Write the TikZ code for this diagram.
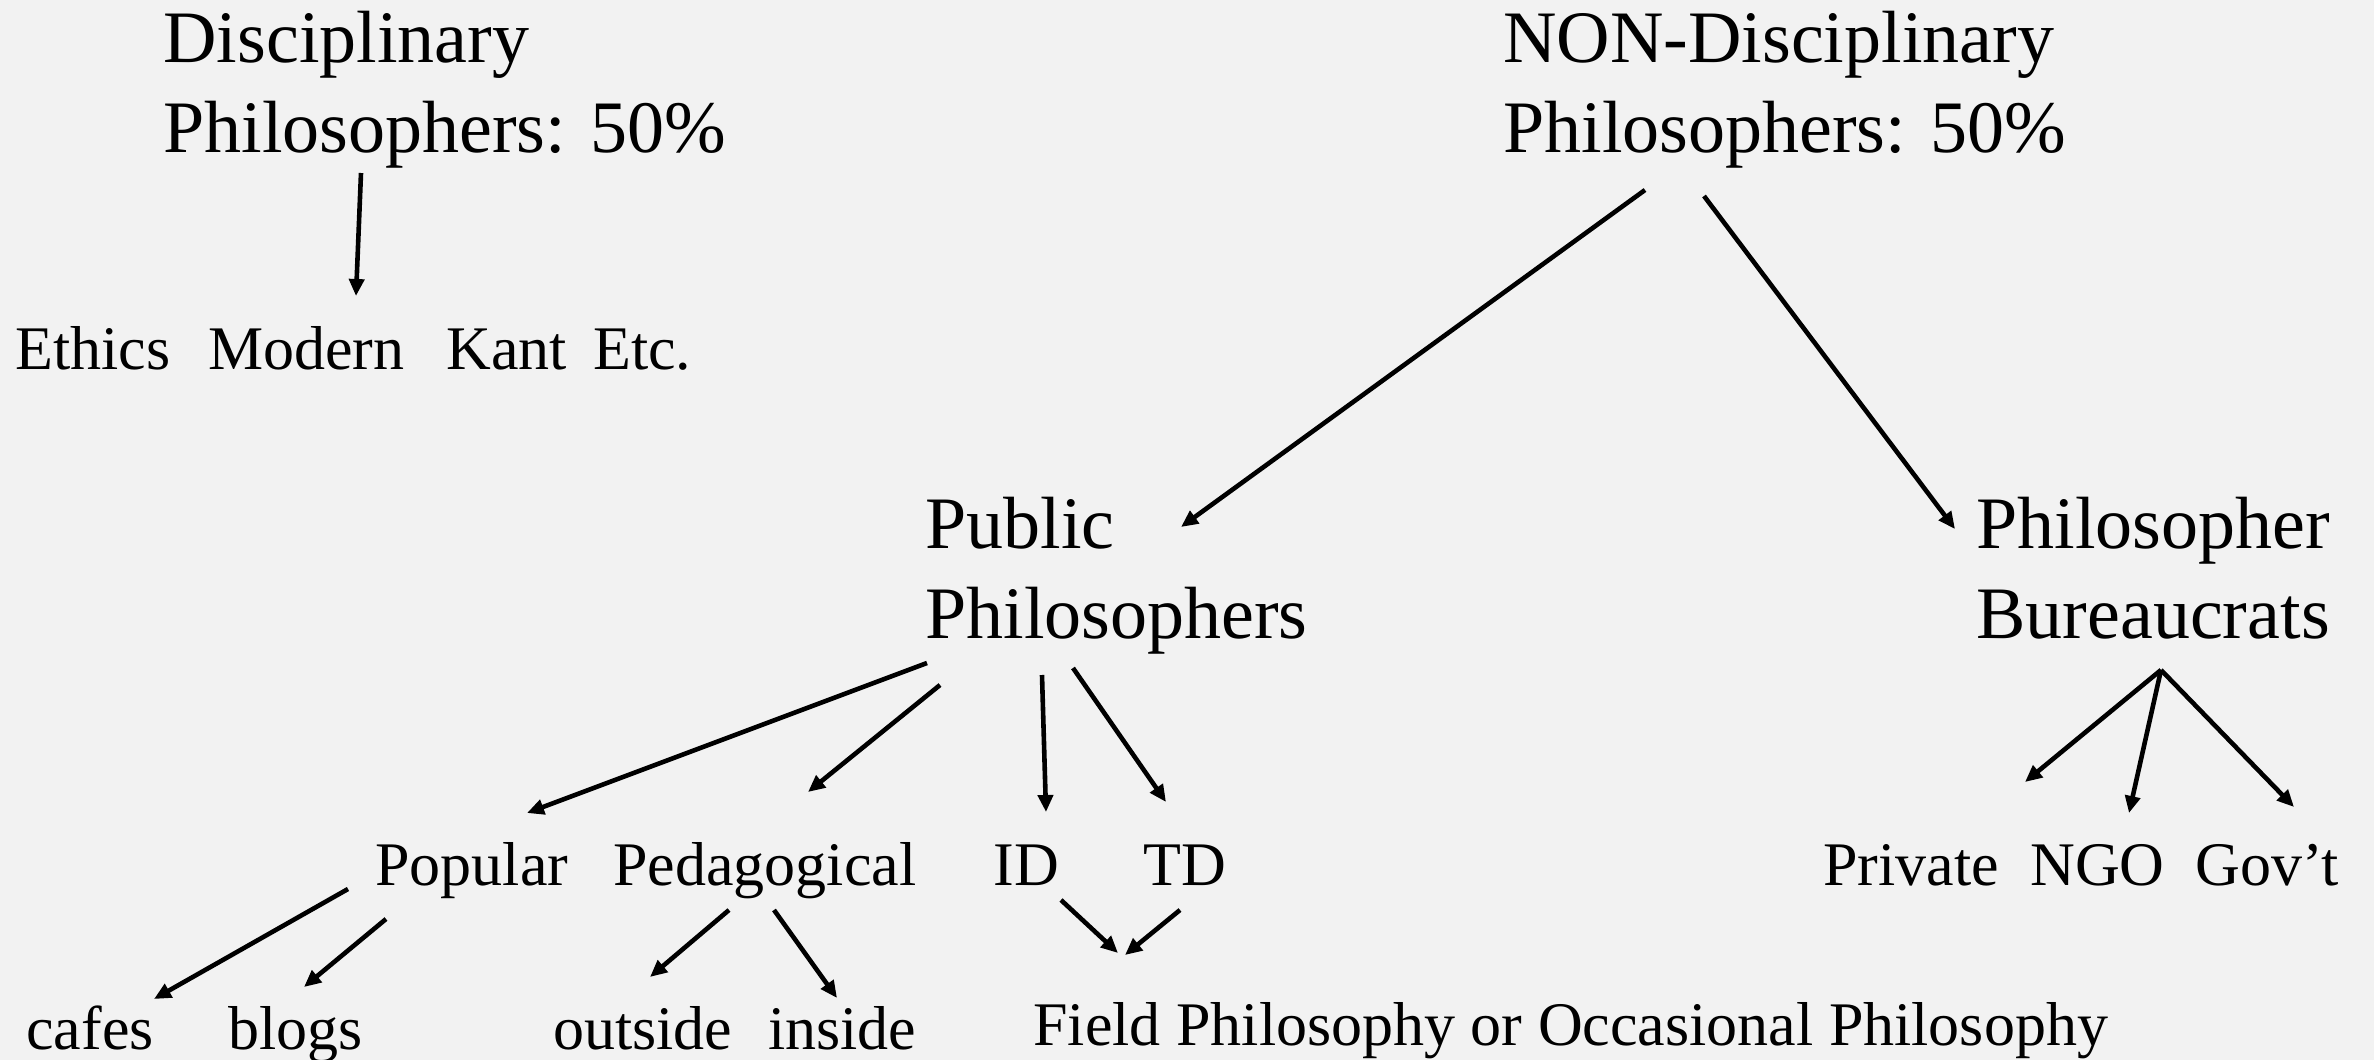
\documentclass[tikz,border=0pt]{standalone}
\usepackage{fontspec}
\setmainfont{Liberation Serif}
\usepackage{xcolor}
\usetikzlibrary{arrows.meta,calc}
\definecolor{bgpaper}{HTML}{F2F2F2}
\tikzset{
  head/.style={anchor=base west, inner sep=0pt, align=left,
               font=\rmfamily\fontsize{37}{45}\selectfont},
  leaf/.style={anchor=base west, inner sep=0pt,
               font=\rmfamily\fontsize{31}{37}\selectfont},
  flow/.style={-{Triangle[length=8.5pt,width=7.5pt]}, line width=2.3pt, black},
}

\begin{document}
\begin{tikzpicture}[x=0.5pt,y=-0.5pt]
  \fill[bgpaper] (0,0) rectangle (2374,1060);
  \useasboundingbox (0,0) rectangle (2374,1060);

  % top level (base = last line)
  \node[head] (disc) at (163,152) {Disciplinary\\Philosophers: 50\%};
  \node[head] (nondisc) at (1503,152) {NON-Disciplinary\\Philosophers: 50\%};
  \node[leaf] (subj) at (15,369)
    {Ethics\hspace{19pt}Modern\hspace{21pt}Kant\hspace{13pt}Etc.};

  % second level
  \node[head] (public) at (925,638) {Public\\Philosophers};
  \node[head] (bureau) at (1976,638) {Philosopher\\Bureaucrats};

  % third level
  \node[leaf] (popular) at (375,885) {Popular};
  \node[leaf] (pedag) at (613,885) {Pedagogical};
  \node[leaf] (id) at (993,885) {ID};
  \node[leaf] (td) at (1143,885) {TD};
  \node[leaf] (private) at (1823,885) {Private};
  \node[leaf] (ngo) at (2030,885) {NGO};
  \node[leaf] (govt) at (2195,885) {Gov't};

  % bottom level
  \node[leaf] (cafes) at (26,1049) {cafes};
  \node[leaf] (blogs) at (228,1049) {blogs};
  \node[leaf] (outside) at (553,1049) {outside};
  \node[leaf] (inside) at (768,1049) {inside};
  \node[leaf] (field) at (1033,1045) {Field Philosophy or Occasional Philosophy};

  % arrows
  \draw[flow] ($(disc.base west)+(198,21)$) -- ($(subj.base west)+(341,-73)$);
  \draw[flow] ($(nondisc.base west)+(142,38)$) -- ($(public.base west)+(256,-111)$);
  \draw[flow] ($(nondisc.base west)+(201,44)$) -- ($(bureau.base west)+(-21,-109)$);

  \draw[flow] ($(public.base west)+(2,25)$) -- ($(popular.base west)+(152,-72)$);
  \draw[flow] ($(public.base west)+(15,47)$) -- ($(pedag.base west)+(195,-93)$);
  \draw[flow] ($(public.base west)+(117,37)$) -- ($(id.base west)+(53,-73)$);
  \draw[flow] ($(public.base west)+(148,30)$) -- ($(td.base west)+(23,-83)$);

  \coordinate (apex) at ($(bureau.base west)+(185,32)$);
  \draw[flow] (apex) -- ($(private.base west)+(202,-103)$);
  \draw[flow] (apex) -- ($(ngo.base west)+(99,-72)$);
  \draw[flow] (apex) -- ($(govt.base west)+(99,-78)$);

  \draw[flow] ($(popular.base west)+(-27,4)$) -- ($(cafes.base west)+(128,-50)$);
  \draw[flow] ($(popular.base west)+(11,34)$) -- ($(blogs.base west)+(76,-62)$);
  \draw[flow] ($(pedag.base west)+(116,25)$) -- ($(outside.base west)+(97,-72)$);
  \draw[flow] ($(pedag.base west)+(161,25)$) -- ($(inside.base west)+(69,-51)$);
  \draw[flow] ($(id.base west)+(68,15)$) -- ($(field.base west)+(85,-92)$);
  \draw[flow] ($(td.base west)+(37,25)$) -- ($(field.base west)+(92,-90)$);
\end{tikzpicture}
\end{document}
